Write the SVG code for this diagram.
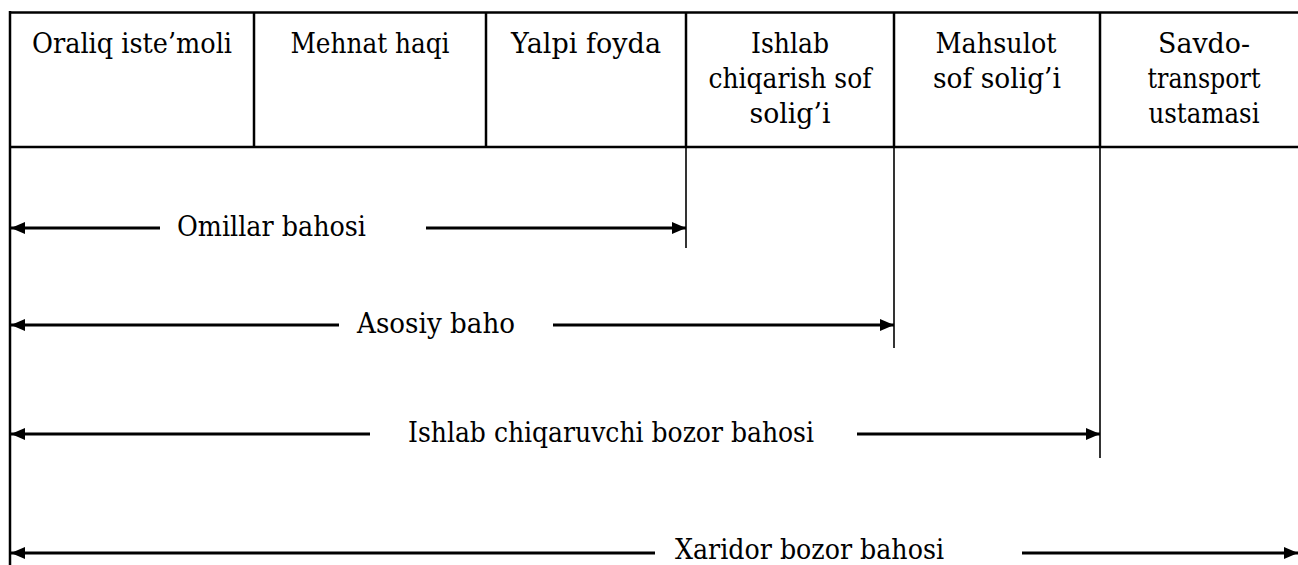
<svg xmlns="http://www.w3.org/2000/svg" width="1298" height="565" viewBox="0 0 1298 565">
<style>
  text { font-family: "DejaVu Serif", "Liberation Serif", serif; font-size: 28px; fill: #000; }
  .c { text-anchor: middle; }
  .grid { stroke: #000; stroke-width: 2.5; fill: none; }
  .ext { stroke: #000; stroke-width: 1.6; fill: none; }
  .arr { stroke: #000; stroke-width: 3; fill: none; }
</style>
<defs>
  <marker id="ah" viewBox="0 0 14 12" refX="14" refY="6" markerWidth="14" markerHeight="12" markerUnits="userSpaceOnUse" orient="auto-start-reverse">
    <path d="M0,0 L14,6 L0,12 Z" fill="#000"/>
  </marker>
</defs>
<rect width="1298" height="565" fill="#fff"/>

<g id="table">
  <line class="grid" x1="10" y1="12.5" x2="1298" y2="12.5"/>
  <line class="grid" x1="10" y1="147" x2="1298" y2="147"/>
  <line class="grid" x1="10" y1="11" x2="10" y2="565"/>
  <line class="grid" x1="254" y1="12" x2="254" y2="147"/>
  <line class="grid" x1="486" y1="12" x2="486" y2="147"/>
  <line class="grid" x1="686" y1="12" x2="686" y2="147"/>
  <line class="grid" x1="894" y1="12" x2="894" y2="147"/>
  <line class="grid" x1="1100" y1="12" x2="1100" y2="147"/>
</g>

<g id="cell-oraliq"><text class="c" x="132" y="53" textLength="200" lengthAdjust="spacingAndGlyphs">Oraliq iste’moli</text></g>
<g id="cell-mehnat"><text class="c" x="370" y="53" textLength="159" lengthAdjust="spacingAndGlyphs">Mehnat haqi</text></g>
<g id="cell-yalpi"><text class="c" x="586" y="53" textLength="150" lengthAdjust="spacingAndGlyphs">Yalpi foyda</text></g>
<g id="cell-ishlab">
  <text class="c" x="790" y="53" textLength="78" lengthAdjust="spacingAndGlyphs">Ishlab</text>
  <text class="c" x="790" y="88" textLength="163" lengthAdjust="spacingAndGlyphs">chiqarish sof</text>
  <text class="c" x="790" y="123" textLength="81" lengthAdjust="spacingAndGlyphs">solig’i</text>
</g>
<g id="cell-mahsulot">
  <text class="c" x="996" y="53" textLength="121" lengthAdjust="spacingAndGlyphs">Mahsulot</text>
  <text class="c" x="997" y="88" textLength="128" lengthAdjust="spacingAndGlyphs">sof solig’i</text>
</g>
<g id="cell-savdo">
  <text class="c" x="1204" y="53" textLength="92" lengthAdjust="spacingAndGlyphs">Savdo-</text>
  <text class="c" x="1204" y="88" textLength="113" lengthAdjust="spacingAndGlyphs">transport</text>
  <text class="c" x="1204" y="123" textLength="111" lengthAdjust="spacingAndGlyphs">ustamasi</text>
</g>

<g id="label-omillar"><text x="177" y="236" textLength="189" lengthAdjust="spacingAndGlyphs">Omillar bahosi</text></g>
<g id="label-asosiy"><text x="357" y="333" textLength="158" lengthAdjust="spacingAndGlyphs">Asosiy baho</text></g>
<g id="label-ishlab-bozor"><text x="408" y="442" textLength="406" lengthAdjust="spacingAndGlyphs">Ishlab chiqaruvchi bozor bahosi</text></g>
<g id="label-xaridor"><text x="675" y="559" textLength="269" lengthAdjust="spacingAndGlyphs">Xaridor bozor bahosi</text></g>

<g id="connectors">
  <line class="ext" x1="686" y1="147" x2="686" y2="248"/>
  <line class="ext" x1="894" y1="147" x2="894" y2="348"/>
  <line class="ext" x1="1100" y1="147" x2="1100" y2="458"/>

  <line class="arr" x1="160" y1="228" x2="11" y2="228" marker-end="url(#ah)"/>
  <line class="arr" x1="426" y1="228" x2="686" y2="228" marker-end="url(#ah)"/>

  <line class="arr" x1="339" y1="325" x2="11" y2="325" marker-end="url(#ah)"/>
  <line class="arr" x1="553" y1="325" x2="894" y2="325" marker-end="url(#ah)"/>

  <line class="arr" x1="370" y1="434" x2="11" y2="434" marker-end="url(#ah)"/>
  <line class="arr" x1="857" y1="434" x2="1100" y2="434" marker-end="url(#ah)"/>

  <line class="arr" x1="655" y1="553" x2="11" y2="553" marker-end="url(#ah)"/>
  <line class="arr" x1="1022" y1="553" x2="1298" y2="553" marker-end="url(#ah)"/>
</g>
</svg>
